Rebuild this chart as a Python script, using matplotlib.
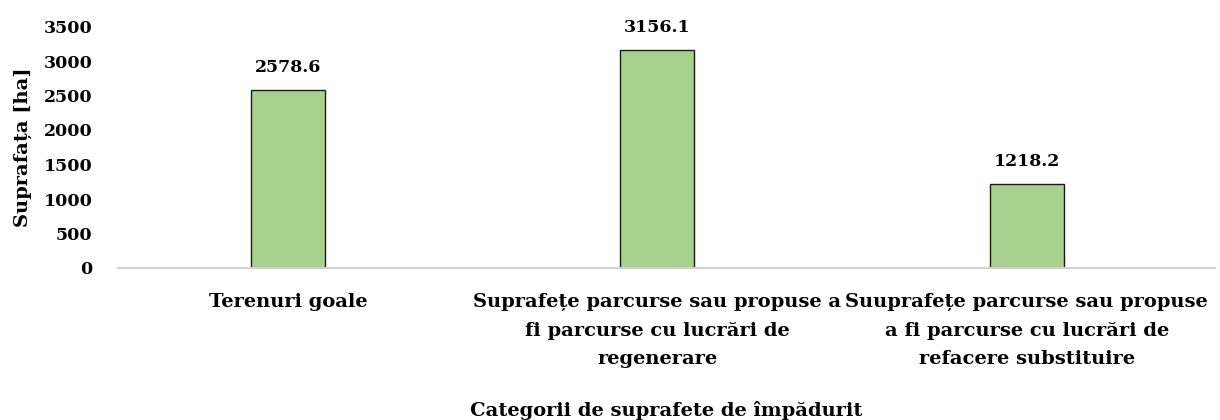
import matplotlib
matplotlib.use("Agg")

import matplotlib.pyplot as plt

categories = [
    "Terenuri goale",
    "Suprafețe parcurse sau propuse a\nfi parcurse cu lucrări de\nregenerare",
    "Suuprafețe parcurse sau propuse\na fi parcurse cu lucrări de\nrefacere substituire",
]
values = [2578.6, 3156.1, 1218.2]
yticks = [0, 500, 1000, 1500, 2000, 2500, 3000, 3500]

plt.rcParams["font.family"] = ["DejaVu Serif"]
plt.rcParams["font.weight"] = "bold"
FS_NUM = 12.5
FS_TXT = 14

fig = plt.figure(figsize=(12.2, 4.2), dpi=100)
ax = fig.add_axes([118 / 1220, 1 - 268 / 420, (1215 - 118) / 1220, (268 - 26.5) / 420])

x = range(len(categories))
bars = ax.bar(x, values, width=0.2, color="#a9d18e", edgecolor="#1a1a1a", linewidth=1.0)

for b, v in zip(bars, values):
    ax.annotate(f"{v:.1f}", (b.get_x() + b.get_width() / 2, v),
                xytext=(0, 10), textcoords="offset points",
                ha="center", va="bottom", fontsize=FS_NUM, fontweight="bold")

ax.set_xlim(-0.46, 2.51)
ax.set_ylim(0, 3500)
ax.set_yticks(yticks)
ax.set_xticks(list(x))
ax.set_xticklabels(categories, fontsize=FS_TXT, fontweight="bold", linespacing=1.75)
ax.tick_params(axis="both", length=0)
ax.tick_params(axis="y", labelsize=FS_NUM, pad=18.5)
ax.tick_params(axis="x", pad=18)
for lab in ax.get_yticklabels():
    lab.set_fontweight("bold")

for s in ["top", "right", "left"]:
    ax.spines[s].set_visible(False)
ax.spines["bottom"].set_color("#d0d0d0")
ax.spines["bottom"].set_linewidth(1.5)

ax.set_ylabel("Suprafața [ha]", fontsize=FS_TXT, fontweight="bold", labelpad=8)
ax.set_xlabel("Categorii de suprafete de împădurit", fontsize=FS_TXT, fontweight="bold")
ax.xaxis.set_label_coords(0.5, -0.55)

fig.savefig("out.png", dpi=100)
